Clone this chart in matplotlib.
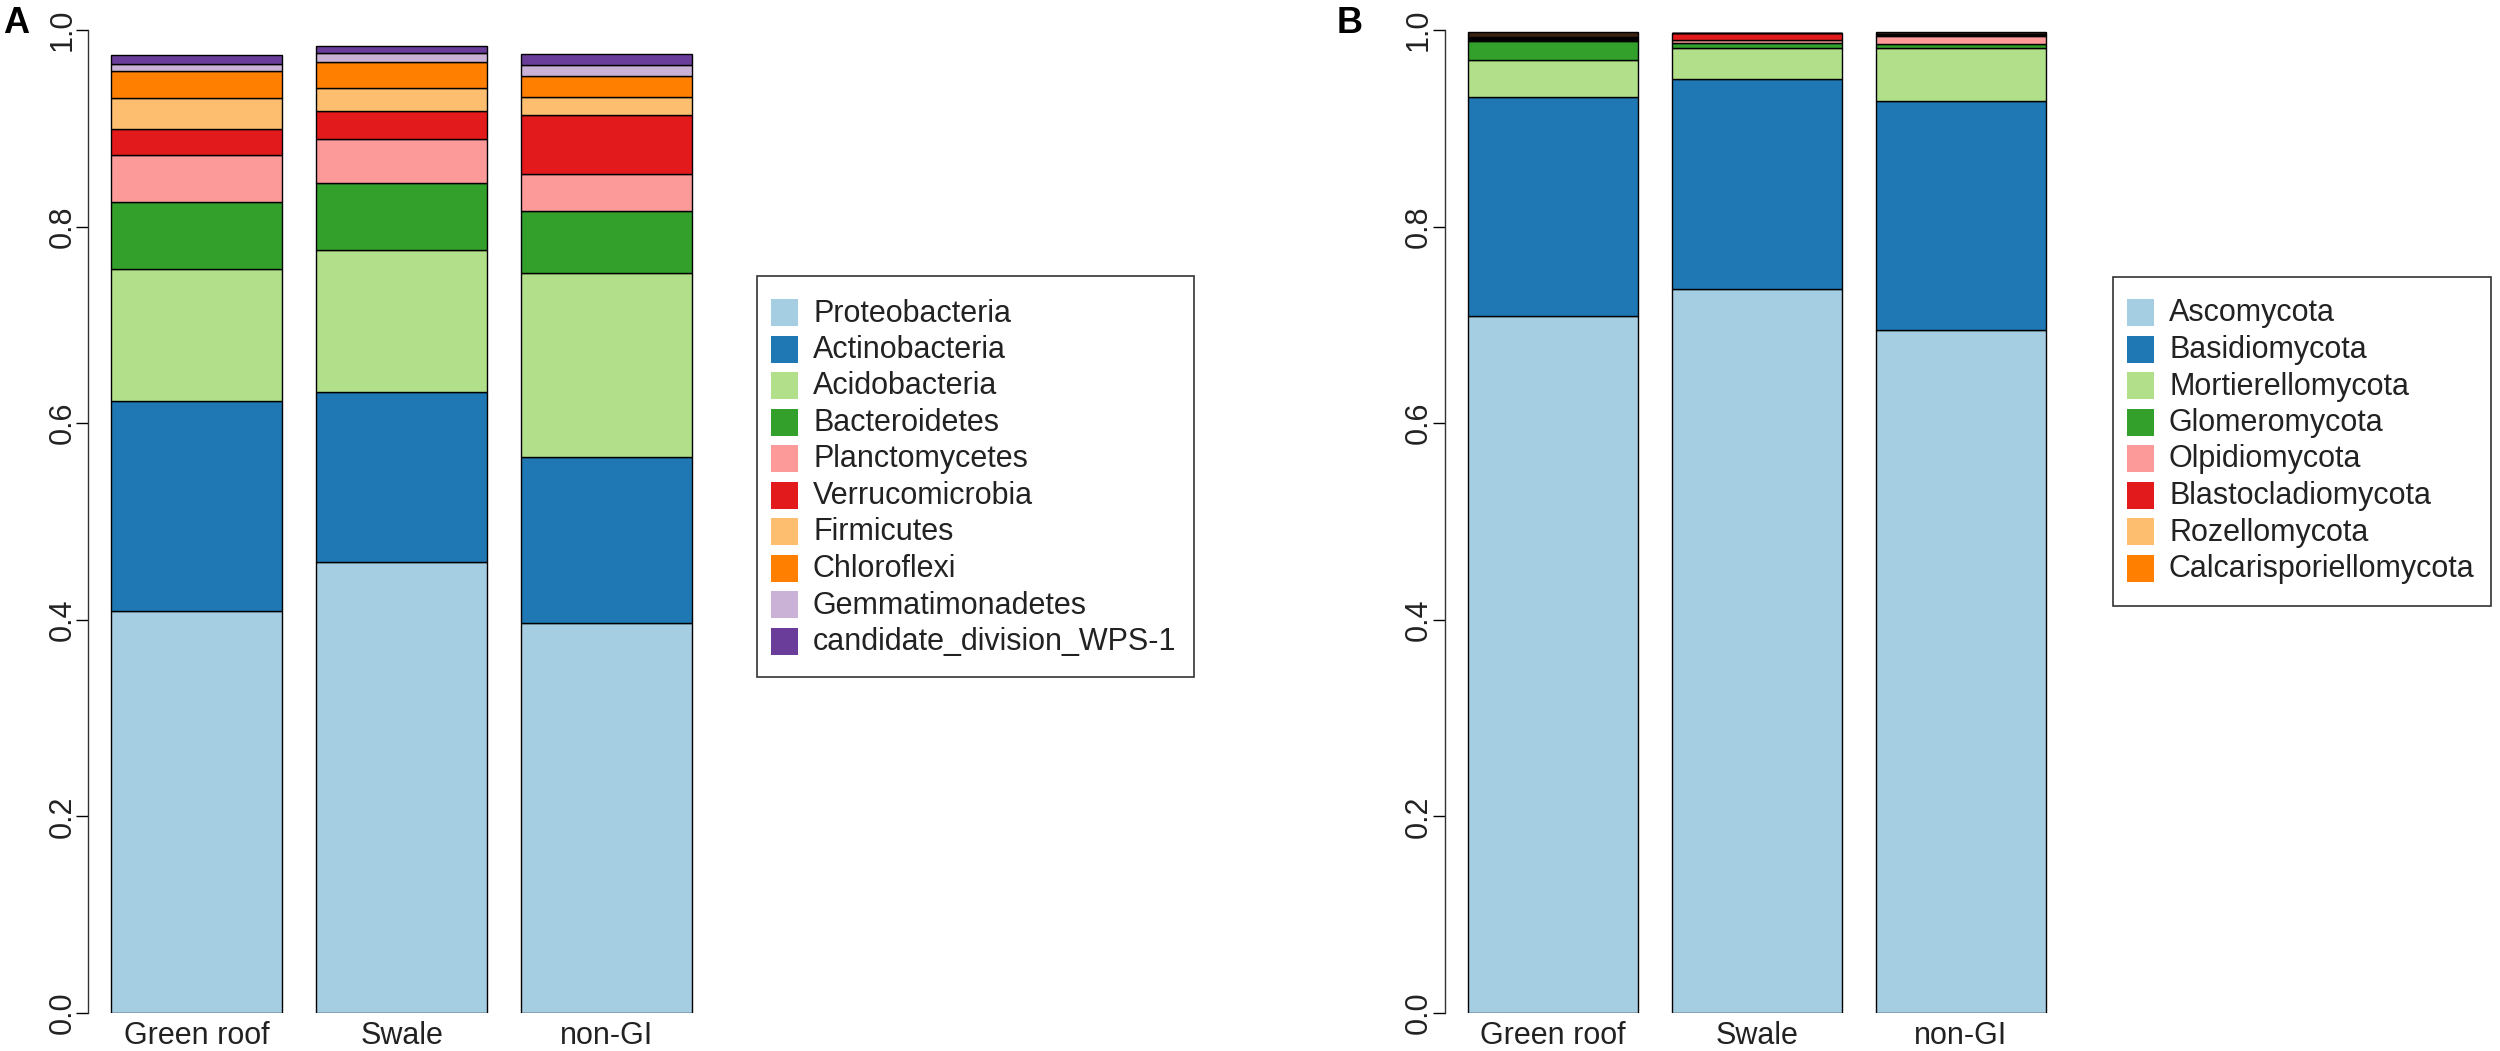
import matplotlib
matplotlib.use("Agg")
import matplotlib.pyplot as plt
from matplotlib.patches import Rectangle
from matplotlib.transforms import Affine2D
import numpy as np

plt.rcParams['font.family'] = ['Liberation Sans', 'DejaVu Sans']

sites = ["Green roof", "Swale", "non-GI"]

# Panel A: bacterial phyla (relative abundance)
bact_names = ["Proteobacteria", "Actinobacteria", "Acidobacteria", "Bacteroidetes",
              "Planctomycetes", "Verrucomicrobia", "Firmicutes", "Chloroflexi",
              "Gemmatimonadetes", "candidate_division_WPS-1"]
proteobacteria   = [0.4093, 0.4591, 0.3972]
actinobacteria   = [0.2133, 0.1726, 0.1688]
acidobacteria    = [0.1343, 0.1445, 0.1871]
bacteroidetes    = [0.0678, 0.0682, 0.0624]
planctomycetes   = [0.0484, 0.0452, 0.0380]
verrucomicrobia  = [0.0259, 0.0280, 0.0599]
firmicutes       = [0.0321, 0.0237, 0.0182]
chloroflexi      = [0.0272, 0.0258, 0.0220]
gemmatimonadetes = [0.0068, 0.0098, 0.0105]
wps1             = [0.0095, 0.0071, 0.0119]

# Panel B: fungal phyla (relative abundance)
fung_names = ["Ascomycota", "Basidiomycota", "Mortierellomycota", "Glomeromycota",
              "Olpidiomycota", "Blastocladiomycota", "Rozellomycota", "Calcarisporiellomycota"]
ascomycota          = [0.7090, 0.7370, 0.6953]
basidiomycota       = [0.2225, 0.2128, 0.2325]
mortierellomycota   = [0.0380, 0.0316, 0.0536]
glomeromycota       = [0.0193, 0.0050, 0.0041]
olpidiomycota       = [0.0010, 0.0036, 0.0084]
blastocladiomycota  = [0.0010, 0.0066, 0.0010]
rozellomycota       = [0.0010, 0.0005, 0.0010]
calcarisporiellomycota = [0.0010, 0.0003, 0.0005]
other_fungi         = [0.0055, 0.0000, 0.0019]   # unlisted dark remainder at top

paired = ["#A6CEE3", "#1F78B4", "#B2DF8A", "#33A02C", "#FB9A99",
          "#E31A1C", "#FDBF6F", "#FF7F00", "#CAB2D6", "#6A3D9A"]

W, H = 2500, 1051
fig = plt.figure(figsize=(W / 100, H / 100), dpi=100)
tr = Affine2D().scale(1 / W, -1 / H).translate(0, 1) + fig.transFigure

FS = 22


def px_axes(left, right, top, bottom):
    return fig.add_axes([left / W, (H - bottom) / H, (right - left) / W, (bottom - top) / H])


def draw_panel(ax, series, colors):
    centers = np.array([0.7, 1.9, 3.1])
    bottom = np.zeros(3)
    for vals, col in zip(series, colors):
        vals = np.array(vals)
        ax.bar(centers, vals, width=1.0, bottom=bottom, color=col,
               edgecolor="black", linewidth=1.0)
        bottom += vals
    ax.set_xlim(0.064, 3.736)
    ax.set_ylim(0, 1)
    for s in ["top", "right", "bottom"]:
        ax.spines[s].set_visible(False)
    ax.spines["left"].set_linewidth(1.0)
    ax.spines["left"].set_color("#333333")
    ax.set_yticks([0, 0.2, 0.4, 0.6, 0.8, 1.0])
    ax.set_yticklabels(["0.0", "0.2", "0.4", "0.6", "0.8", "1.0"], rotation=90,
                       va="center", fontsize=FS, color="#222222")
    ax.tick_params(axis="y", direction="out", length=8.6, width=1.0, pad=-1)
    ax.set_xticks(centers)
    ax.set_xticklabels(sites, fontsize=FS, color="#222222")
    ax.tick_params(axis="x", length=0, pad=6)
    ax.set_facecolor("none")


axA = px_axes(88, 715.6, 30, 1013)
draw_panel(axA, [proteobacteria, actinobacteria, acidobacteria, bacteroidetes,
                 planctomycetes, verrucomicrobia, firmicutes, chloroflexi,
                 gemmatimonadetes, wps1], paired)

axB = px_axes(1444.6, 2068.8, 30, 1013)
draw_panel(axB, [ascomycota, basidiomycota, mortierellomycota, glomeromycota,
                 olpidiomycota, blastocladiomycota, rozellomycota,
                 calcarisporiellomycota, other_fungi], paired[:8] + ["#3b2210"])


def draw_legend(box, sw_x, txt_x, names, colors):
    bx, by, bw, bh = box
    fig.add_artist(Rectangle((bx, by), bw, bh, fill=False, edgecolor="#333333",
                             linewidth=1.2, transform=tr))
    for i, (name, col) in enumerate(zip(names, colors)):
        yc = 312.5 + i * 36.5
        fig.add_artist(Rectangle((sw_x, yc - 13.5), 27, 27, facecolor=col,
                                 edgecolor="none", transform=tr))
        fig.text(txt_x, yc + 1, name, transform=tr, fontsize=FS, va="center",
                 ha="left", color="#222222")


draw_legend((757, 276, 437, 401), 771, 813, bact_names, paired)
draw_legend((2113, 277, 378, 329), 2127, 2169, fung_names, paired[:8])

fig.text(3, 33, "A", transform=tr, fontsize=26, fontweight="bold", va="baseline", ha="left")
fig.text(1337, 33, "B", transform=tr, fontsize=26, fontweight="bold", va="baseline", ha="left")

fig.savefig("out.png", dpi=100)
